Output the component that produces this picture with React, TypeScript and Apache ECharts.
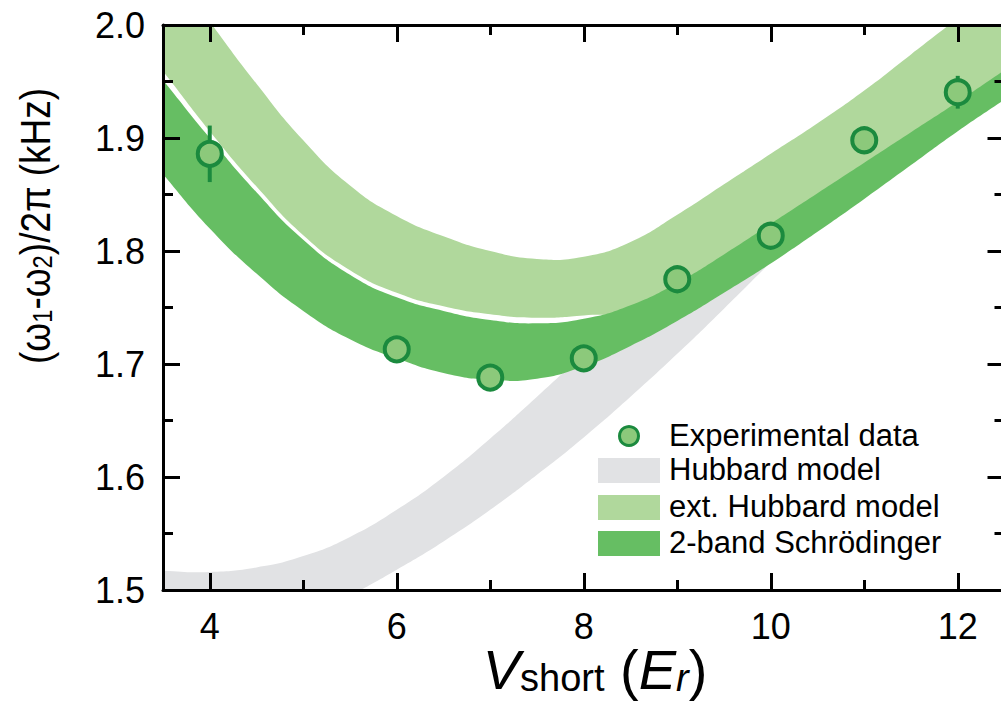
import React, { useEffect, useRef } from 'react';
import * as echarts from 'echarts';

const FONT = '"Liberation Sans", Arial, Helvetica, sans-serif';

// Axis ticks
const xMajorTicks = [4, 6, 8, 10, 12];
const xMinorTicks = [5, 7, 9, 11];

// Experimental data
const vShort = [4, 6, 7, 8, 9, 10, 11, 12];
const freqExp = [1.886, 1.713, 1.688, 1.705, 1.775, 1.8135, 1.898, 1.9405];
const freqErr = [0.025, 0.006, 0.006, 0.006, 0.006, 0.006, 0.008, 0.0145];

// Theory bands (lower / upper bounds)
const bandX = [3.3, 3.5, 4, 4.5, 5, 5.5, 6, 6.5, 7, 7.5, 8, 8.5, 9, 9.5, 10, 10.5, 11, 11.5, 12, 12.5, 12.7];
const hubbardLower = [1.437, 1.439, 1.446, 1.457, 1.474, 1.495, 1.518, 1.543, 1.571, 1.602, 1.635, 1.671, 1.709, 1.749, 1.790, 1.830, 1.868, 1.904, 1.939, 1.972, 1.985];
const hubbardUpper = [1.519, 1.517, 1.516, 1.520, 1.530, 1.547, 1.571, 1.600, 1.634, 1.671, 1.709, 1.747, 1.784, 1.821, 1.857, 1.892, 1.926, 1.958, 1.990, 2.020, 2.032];
const extLower = [1.979, 1.959, 1.906, 1.857, 1.814, 1.783, 1.763, 1.751, 1.744, 1.741, 1.743, 1.747, 1.766, 1.791, 1.818, 1.845, 1.872, 1.899, 1.926, 1.954, 1.965];
const extUpper = [2.082, 2.06, 2.003, 1.948, 1.898, 1.858, 1.831, 1.813, 1.800, 1.793, 1.795, 1.808, 1.832, 1.859, 1.886, 1.913, 1.942, 1.974, 2.006, 2.038, 2.051];
const twoBandLower = [1.888, 1.868, 1.820, 1.780, 1.747, 1.722, 1.705, 1.692, 1.686, 1.687, 1.698, 1.716, 1.738, 1.763, 1.789, 1.817, 1.846, 1.876, 1.906, 1.934, 1.945];
const twoBandUpper = [1.971, 1.951, 1.900, 1.852, 1.810, 1.779, 1.759, 1.747, 1.739, 1.736, 1.740, 1.752, 1.772, 1.797, 1.824, 1.851, 1.878, 1.905, 1.932, 1.960, 1.971];

const legendLabels = ['Experimental data', 'Hubbard model', 'ext. Hubbard model', '2-band Schrödinger'];

const C_GRAY = '#e1e2e4';
const C_LIGHT = '#b0d89c';
const C_DARK = '#66be63';
const C_MFILL = '#8cc97b';
const C_MSTROKE = '#1b8a3e';

function bandSeries(name: string, lo: number[], hi: number[], color: string, z: number) {
  return {
    type: 'custom',
    name,
    clip: true,
    silent: true,
    z,
    xAxisIndex: 0,
    yAxisIndex: 0,
    data: [[8, 1.75]],
    renderItem: (_params: any, api: any) => {
      const pts: number[][] = [];
      for (let i = 0; i < bandX.length; i++) pts.push(api.coord([bandX[i], hi[i]]));
      for (let i = bandX.length - 1; i >= 0; i--) pts.push(api.coord([bandX[i], lo[i]]));
      return {
        type: 'polygon',
        shape: { points: pts, smooth: 0.5 },
        style: { fill: color, stroke: 'none' },
      };
    },
  };
}

const lineStyle = { color: '#000', width: 3 };

function xAxisCfg(position: string, ticks: number[], len: number, showLine: boolean, showLabel: boolean) {
  return {
    type: 'value',
    position,
    min: 3.5,
    max: 12.5,
    z: 10,
    axisLine: { show: showLine, onZero: false, lineStyle },
    axisTick: { show: true, inside: true, length: len, lineStyle, customValues: ticks },
    axisLabel: {
      show: showLabel,
      customValues: ticks,
      fontSize: 36,
      fontFamily: FONT,
      color: '#000',
      margin: 18,
    },
    splitLine: { show: false },
  };
}

function yAxisCfg(position: string, showLabel: boolean) {
  return {
    type: 'value',
    position,
    min: 1.5,
    max: 2.0,
    interval: 0.1,
    z: 10,
    axisLine: { show: true, onZero: false, lineStyle },
    axisTick: { show: true, inside: true, length: 17, lineStyle },
    minorTick: { show: true, splitNumber: 2, length: 10, lineStyle },
    axisLabel: {
      show: showLabel,
      fontSize: 36,
      fontFamily: FONT,
      color: '#000',
      margin: 18,
      formatter: (v: number) => v.toFixed(1),
    },
    splitLine: { show: false },
    minorSplitLine: { show: false },
  };
}

export default function App() {
  const ref = useRef<HTMLDivElement>(null);
  useEffect(() => {
    if (!ref.current) return;
    const chart = echarts.init(ref.current, undefined, { renderer: 'svg' });
    const legendRows = [436, 470, 507, 543];
    const graphic: any[] = [
      {
        type: 'text',
        x: 35,
        y: 226,
        rotation: Math.PI / 2,
        scaleX: 0.88,
        z: 20,
        style: {
          text: '{n|(ω}{s|1}{n|-ω}{s|2}{n|)/2π (kHz)}',
          align: 'center',
          verticalAlign: 'middle',
          fill: '#000',
          rich: {
            n: { fontSize: 42, fontFamily: FONT, fill: '#000', lineHeight: 42 },
            s: { fontSize: 27, fontFamily: FONT, fill: '#000', lineHeight: 13, verticalAlign: 'bottom' },
          },
        },
      },
      {
        type: 'text',
        x: 595,
        y: 669,
        z: 20,
        style: {
          text: '{i|V}{s|short}{n| (}{i|E}{is|r}{n|)}',
          align: 'center',
          verticalAlign: 'middle',
          fill: '#000',
          rich: {
            i: { fontSize: 56, fontFamily: FONT, fontStyle: 'italic', fill: '#000', lineHeight: 56 },
            n: { fontSize: 56, fontFamily: FONT, fill: '#000', lineHeight: 56 },
            s: { fontSize: 38, fontFamily: FONT, fill: '#000', lineHeight: 20, verticalAlign: 'bottom' },
            is: { fontSize: 38, fontFamily: FONT, fontStyle: 'italic', fill: '#000', lineHeight: 20, verticalAlign: 'bottom' },
          },
        },
      },
      {
        type: 'circle',
        z: 20,
        shape: { cx: 629, cy: 436, r: 9.5 },
        style: { fill: C_MFILL, stroke: C_MSTROKE, lineWidth: 3 },
      },
      { type: 'rect', z: 20, shape: { x: 598, y: 458, width: 62, height: 25 }, style: { fill: C_GRAY } },
      { type: 'rect', z: 20, shape: { x: 598, y: 495, width: 62, height: 25 }, style: { fill: C_LIGHT } },
      { type: 'rect', z: 20, shape: { x: 598, y: 531, width: 62, height: 25 }, style: { fill: C_DARK } },
    ];
    legendLabels.forEach((t, i) => {
      graphic.push({
        type: 'text',
        x: 669,
        y: legendRows[i] - 1,
        z: 20,
        style: { text: t, fontSize: 31, fontFamily: FONT, fill: '#000', align: 'left', verticalAlign: 'middle' },
      });
    });

    chart.setOption({
      animation: false,
      backgroundColor: '#fff',
      grid: { left: 163, top: 25, width: 841.5, height: 565, containLabel: false, outerBoundsMode: 'none' },
      xAxis: [
        xAxisCfg('bottom', xMajorTicks, 17, true, true),
        xAxisCfg('bottom', xMinorTicks, 10, false, false),
        xAxisCfg('top', xMajorTicks, 17, true, false),
        xAxisCfg('top', xMinorTicks, 10, false, false),
      ],
      yAxis: [yAxisCfg('left', true), yAxisCfg('right', false)],
      graphic,
      series: [
        bandSeries('Hubbard model', hubbardLower, hubbardUpper, C_GRAY, 1),
        bandSeries('ext. Hubbard model', extLower, extUpper, C_LIGHT, 2),
        bandSeries('2-band Schrödinger', twoBandLower, twoBandUpper, C_DARK, 3),
        {
          type: 'custom',
          name: 'error',
          z: 4,
          xAxisIndex: 0,
          yAxisIndex: 0,
          data: vShort.map((x, i) => [x, freqExp[i], freqErr[i]]),
          encode: { x: 0, y: 1 },
          renderItem: (_params: any, api: any) => {
            const x = api.value(0);
            const y = api.value(1);
            const e = api.value(2);
            const p1 = api.coord([x, y + e]);
            const p2 = api.coord([x, y - e]);
            return {
              type: 'line',
              shape: { x1: p1[0], y1: p1[1], x2: p2[0], y2: p2[1] },
              style: { stroke: C_MSTROKE, lineWidth: 4 },
            };
          },
        },
        {
          type: 'scatter',
          name: 'Experimental data',
          z: 5,
          xAxisIndex: 0,
          yAxisIndex: 0,
          data: vShort.map((x, i) => [x, freqExp[i]]),
          symbol: 'circle',
          symbolSize: 24,
          itemStyle: { color: C_MFILL, borderColor: C_MSTROKE, borderWidth: 4, opacity: 1 },
        },
      ],
    });
    return () => chart.dispose();
  }, []);
  return <div ref={ref} style={{ position: 'absolute', left: 0, top: 0, width: 1001, height: 713 }} />;
}
